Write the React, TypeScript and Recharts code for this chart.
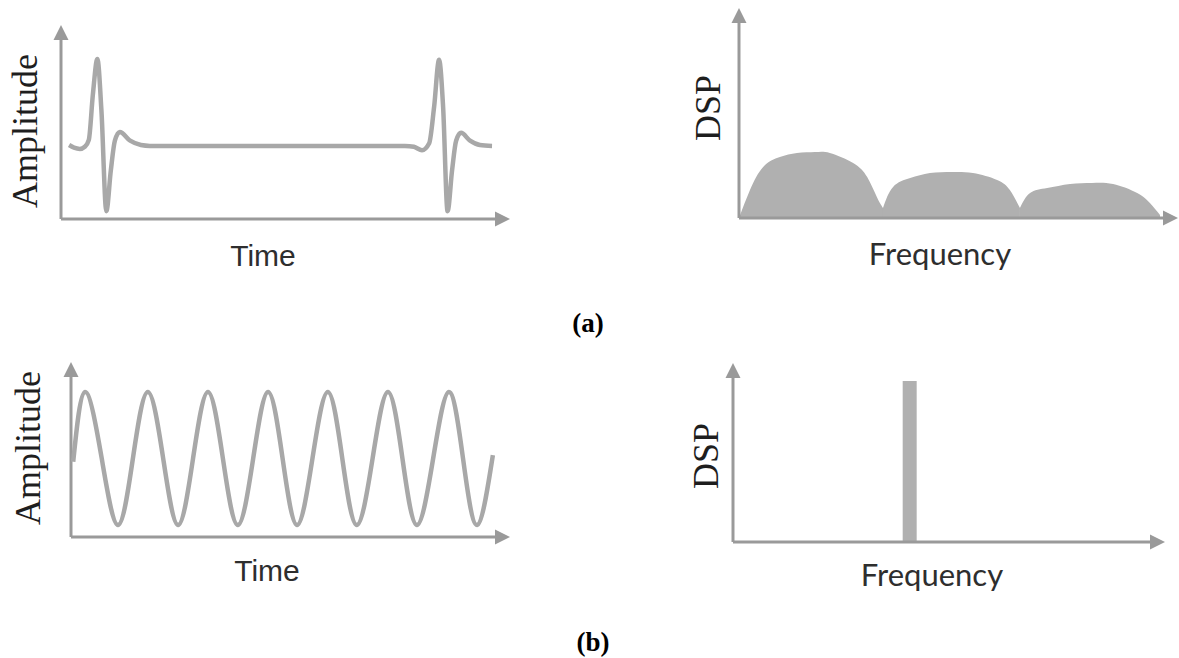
import React from 'react';
import {
  LineChart,
  Line,
  AreaChart,
  Area,
  BarChart,
  Bar,
  XAxis,
  YAxis,
  ReferenceLine,
} from 'recharts';

// (a) pulse train: time (arbitrary units) and amplitude (normalised to the spike peak)
const pulseTime = [
  0.18, 0.29, 0.42, 0.53, 0.62, 0.71, 0.81, 0.9, 1.01, 1.11, 1.2, 1.31, 1.54, 1.78, 1.98,
  7.66, 7.86, 8.04, 8.2, 8.31, 8.42, 8.51, 8.61, 8.71, 8.8, 8.91, 9.11, 9.33, 9.6,
];
const pulseAmp = [
  0.01, -0.02, -0.035, -0.01, 0.07, 0.59, 1.0, 0.41, -0.75, -0.28, 0.06, 0.16, 0.06, 0.01, 0,
  0, -0.01, -0.05, 0.03, 0.45, 0.99, 0.45, -0.75, -0.28, 0.06, 0.15, 0.06, 0.01, 0,
];

// (a) power spectral density: three decreasing lobes
const lobe1Freq = [0, 0.25, 0.55, 0.93, 1.32, 1.73, 2.07, 2.6, 2.92, 3.14, 3.28];
const lobe1Dsp = [0, 0.133, 0.243, 0.29, 0.31, 0.314, 0.31, 0.262, 0.195, 0.1, 0.048];
const lobe2Freq = [3.28, 3.51, 3.9, 4.35, 4.85, 5.33, 5.88, 6.17, 6.4];
const lobe2Dsp = [0.048, 0.148, 0.19, 0.214, 0.219, 0.214, 0.181, 0.133, 0.048];
const lobe3Freq = [6.4, 6.63, 7.02, 7.54, 8.04, 8.52, 9.07, 9.36, 9.59];
const lobe3Dsp = [0.048, 0.119, 0.143, 0.162, 0.167, 0.162, 0.119, 0.071, 0.014];

// (b) pure sinusoid: peaks, troughs and zero crossings
const sineTime = [
  0.05, 0.32, 0.7, 1.07, 1.41, 1.75, 2.1, 2.44, 2.78, 3.12, 3.46, 3.8, 4.15, 4.49, 4.82,
  5.15, 5.5, 5.85, 6.18, 6.51, 6.87, 7.22, 7.55, 7.88, 8.25, 8.61, 8.93, 9.25, 9.61,
];
const sineAmp = [
  -0.05, 1, 0, -1, 0, 1, 0, -1, 0, 1, 0, -1, 0, 1, 0,
  -1, 0, 1, 0, -1, 0, 1, 0, -1, 0, 1, 0, -1, 0.05,
];

// (b) spectrum of the sinusoid: a single line
const toneFreq = [0, 1, 2, 3, 4.1, 5, 6, 7, 8, 9, 10];
const toneDsp = [0, 0, 0, 0, 0.9, 0, 0, 0, 0, 0, 0];

const pulseData = pulseTime.map((t, i) => ({ t, amp: pulseAmp[i] }));
const sineData = sineTime.map((t, i) => ({ t, amp: sineAmp[i] }));
const toneData = toneFreq.map((f, i) => ({ f, dsp: toneDsp[i] }));

// one row per frequency; each lobe is its own series so the valleys stay sharp
const lobeRows = new Map<number, Record<string, number>>();
const addLobe = (key: string, freqs: number[], vals: number[]) => {
  freqs.forEach((f, i) => {
    const row = lobeRows.get(f) ?? { f };
    row[key] = vals[i];
    lobeRows.set(f, row);
  });
};
addLobe('lobe1', lobe1Freq, lobe1Dsp);
addLobe('lobe2', lobe2Freq, lobe2Dsp);
addLobe('lobe3', lobe3Freq, lobe3Dsp);
const lobeData = Array.from(lobeRows.values()).sort((a, b) => a.f - b.f);

const AXIS_COLOR = '#9a9a9a';
const WAVE_COLOR = '#a8a8a8';
const FILL_COLOR = '#b0b0b0';

// Axis line ending in a filled arrow head
const ArrowAxis = (props: any) => {
  const { x1, y1, x2, y2 } = props;
  const dx = x2 - x1;
  const dy = y2 - y1;
  const len = Math.hypot(dx, dy) || 1;
  const ux = dx / len;
  const uy = dy / len;
  const head = 15;
  const half = 7.5;
  const bx = x2 - ux * head;
  const by = y2 - uy * head;
  const px = -uy;
  const py = ux;
  return (
    <g>
      <line x1={x1} y1={y1} x2={bx + ux} y2={by + uy} stroke={AXIS_COLOR} strokeWidth={3} />
      <polygon
        points={`${x2},${y2} ${bx + px * half},${by + py * half} ${bx - px * half},${by - py * half}`}
        fill={AXIS_COLOR}
      />
    </g>
  );
};

const axesFor = (xMax: number, yMin: number, yMax: number, xMin = 0) => [
  <ReferenceLine
    key="x-axis"
    segment={[
      { x: xMin, y: yMin },
      { x: xMax, y: yMin },
    ]}
    ifOverflow="visible"
    shape={ArrowAxis}
  />,
  <ReferenceLine
    key="y-axis"
    segment={[
      { x: xMin, y: yMin },
      { x: xMin, y: yMax },
    ]}
    ifOverflow="visible"
    shape={ArrowAxis}
  />,
];

const serif = '"Liberation Serif", "Times New Roman", serif';
const sans = '"Liberation Sans", Arial, sans-serif';
const freqFont = 'Lato, "Liberation Sans", sans-serif';

const Label = ({
  text,
  x,
  y,
  size,
  font,
  color = '#333',
  rotate = false,
  bold = false,
}: {
  text: string;
  x: number;
  y: number;
  size: number;
  font: string;
  color?: string;
  rotate?: boolean;
  bold?: boolean;
}) => (
  <div
    style={{
      position: 'absolute',
      left: x,
      top: y,
      fontSize: size,
      fontFamily: font,
      fontWeight: bold ? 700 : 400,
      color,
      lineHeight: 1,
      whiteSpace: 'nowrap',
      transform: `translate(-50%, -50%)${rotate ? ' rotate(-90deg)' : ''}`,
    }}
  >
    {text}
  </div>
);

const box = (left: number, top: number): React.CSSProperties => ({
  position: 'absolute',
  left,
  top,
});

export default function App() {
  const PULSE_Y: [number, number] = [-0.84, 1.39];
  const LOBE_Y: [number, number] = [0, 1];
  const SINE_Y: [number, number] = [-1.18, 1.45];
  const TONE_Y: [number, number] = [0, 1];

  return (
    <div
      style={{
        position: 'absolute',
        left: 0,
        top: 0,
        width: 1179,
        height: 658,
        background: '#ffffff',
        overflow: 'hidden',
      }}
    >
      {/* (a) time domain */}
      <div style={box(0, 0)}>
        <LineChart width={530} height={280} data={pulseData} margin={{ top: 25, left: 61, right: 20, bottom: 61 }}>
          <XAxis dataKey="t" type="number" domain={[0, 10]} hide />
          <YAxis type="number" domain={PULSE_Y} hide />
          {axesFor(10, PULSE_Y[0], PULSE_Y[1])}
          <Line
            dataKey="amp"
            type="monotone"
            stroke={WAVE_COLOR}
            strokeWidth={4.5}
            dot={false}
            isAnimationActive={false}
          />
        </LineChart>
      </div>

      {/* (a) frequency domain */}
      <div style={box(680, 0)}>
        <AreaChart width={499} height={280} data={lobeData} margin={{ top: 8, left: 59, right: 1, bottom: 62 }}>
          <XAxis dataKey="f" type="number" domain={[0, 10]} hide />
          <YAxis type="number" domain={LOBE_Y} hide />
          {['lobe1', 'lobe2', 'lobe3'].map((k) => (
            <Area
              key={k}
              dataKey={k}
              type="natural"
              stroke="none"
              fill={FILL_COLOR}
              fillOpacity={1}
              isAnimationActive={false}
            />
          ))}
          {axesFor(10, LOBE_Y[0], LOBE_Y[1])}
        </AreaChart>
      </div>

      {/* (b) time domain */}
      <div style={box(0, 340)}>
        <LineChart width={530} height={260} data={sineData} margin={{ top: 22, left: 71, right: 20, bottom: 63 }}>
          <XAxis dataKey="t" type="number" domain={[0, 10]} hide />
          <YAxis type="number" domain={SINE_Y} hide />
          {axesFor(10, SINE_Y[0], SINE_Y[1])}
          <Line
            dataKey="amp"
            type="natural"
            stroke={WAVE_COLOR}
            strokeWidth={4.5}
            dot={false}
            isAnimationActive={false}
          />
        </LineChart>
      </div>

      {/* (b) frequency domain */}
      <div style={box(680, 340)}>
        <BarChart width={499} height={260} data={toneData} margin={{ top: 23, left: 53, right: 14, bottom: 58 }}>
          <XAxis dataKey="f" type="number" domain={[0, 10]} hide />
          <YAxis type="number" domain={TONE_Y} hide />
          <Bar dataKey="dsp" fill={FILL_COLOR} barSize={14} isAnimationActive={false} />
          {axesFor(10, TONE_Y[0], TONE_Y[1])}
        </BarChart>
      </div>

      <Label text="Amplitude" x={24.5} y={131} size={36} font={serif} color="#1e1e1e" rotate />
      <Label text="Time" x={263} y={256} size={30} font={sans} color="#2e2e2e" />
      <Label text="DSP" x={708} y={108} size={36} font={serif} color="#1e1e1e" rotate />
      <Label text="Frequency" x={940} y={253} size={31} font={freqFont} color="#2e2e2e" />
      <Label text="(a)" x={588} y={323} size={27} font={serif} color="#000" bold />

      <Label text="Amplitude" x={28} y={448} size={36} font={serif} color="#1e1e1e" rotate />
      <Label text="Time" x={267} y={571} size={30} font={sans} color="#2e2e2e" />
      <Label text="DSP" x={706} y={456} size={36} font={serif} color="#1e1e1e" rotate />
      <Label text="Frequency" x={932} y={574} size={31} font={freqFont} color="#2e2e2e" />
      <Label text="(b)" x={593} y={642} size={27} font={serif} color="#000" bold />
    </div>
  );
}
